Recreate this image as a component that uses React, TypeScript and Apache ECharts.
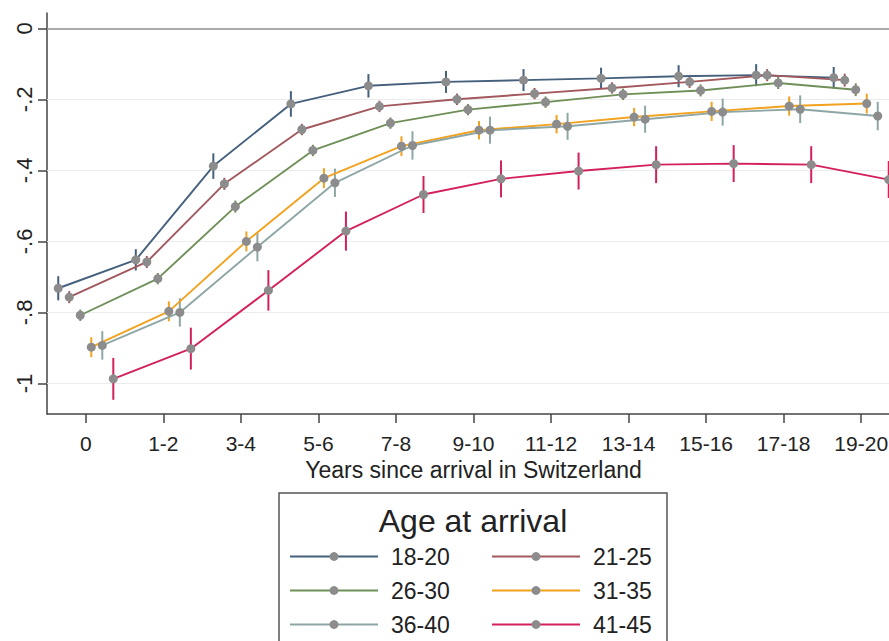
import React, { useEffect, useRef } from "react";
import * as echarts from "echarts";

const categories = ["0", "1-2", "3-4", "5-6", "7-8", "9-10", "11-12", "13-14", "15-16", "17-18", "19-20"];
const groups = ["18-20", "21-25", "26-30", "31-35", "36-40", "41-45"];
const groupColors = ["#45607c", "#a2585d", "#6f8f58", "#f2a21e", "#8ea6a6", "#d4205a"];

const v1820 = [-0.732, -0.652, -0.388, -0.213, -0.162, -0.151, -0.146, -0.141, -0.135, -0.132, -0.139];
const v2125 = [-0.757, -0.658, -0.438, -0.285, -0.22, -0.2, -0.184, -0.168, -0.151, -0.132, -0.146];
const v2630 = [-0.808, -0.705, -0.502, -0.344, -0.267, -0.229, -0.208, -0.186, -0.175, -0.154, -0.173];
const v3135 = [-0.898, -0.797, -0.6, -0.422, -0.332, -0.287, -0.27, -0.25, -0.234, -0.219, -0.212];
const v3640 = [-0.893, -0.8, -0.616, -0.435, -0.33, -0.287, -0.276, -0.256, -0.236, -0.228, -0.247];
const v4145 = [-0.987, -0.902, -0.738, -0.571, -0.468, -0.424, -0.402, -0.384, -0.381, -0.384, -0.426];

const ci1820 = [0.034, 0.03, 0.036, 0.036, 0.033, 0.031, 0.031, 0.03, 0.031, 0.031, 0.03];
const ci2125 = [0.017, 0.017, 0.017, 0.016, 0.016, 0.016, 0.016, 0.016, 0.017, 0.017, 0.018];
const ci2630 = [0.016, 0.016, 0.017, 0.016, 0.016, 0.016, 0.016, 0.016, 0.017, 0.017, 0.018];
const ci3135 = [0.028, 0.028, 0.028, 0.028, 0.028, 0.026, 0.026, 0.026, 0.027, 0.027, 0.028];
const ci3640 = [0.04, 0.04, 0.04, 0.04, 0.04, 0.038, 0.038, 0.038, 0.038, 0.039, 0.04];
const ci4145 = [0.059, 0.059, 0.057, 0.055, 0.052, 0.052, 0.052, 0.052, 0.052, 0.052, 0.052];

const allValues = [v1820, v2125, v2630, v3135, v3640, v4145];
const allCis = [ci1820, ci2125, ci2630, ci3135, ci3640, ci4145];
const dodge = [-0.355, -0.213, -0.071, 0.071, 0.213, 0.355];

const yTickValues = [0, -0.2, -0.4, -0.6, -0.8, -1];
const yTickLabels = ["0", "-.2", "-.4", "-.6", "-.8", "-1"];
const gridValues = [-0.2, -0.4, -0.6, -0.8, -1];

const FONT = "'Liberation Sans', Arial, sans-serif";

export default function App() {
  const ref = useRef<HTMLDivElement>(null);
  useEffect(() => {
    if (!ref.current) return;
    const chart = echarts.init(ref.current, null, { renderer: "svg" });
    const xTicks = categories.map((_, i) => i);
    const series: any[] = [];
    groups.forEach((g, gi) => {
      const vals = allValues[gi];
      const cis = allCis[gi];
      series.push({
        type: "custom",
        name: g + " CI",
        z: 2,
        silent: true,
        renderItem: (params: any, api: any) => {
          const p1 = api.coord([api.value(0), api.value(1)]);
          const p2 = api.coord([api.value(0), api.value(2)]);
          return {
            type: "line",
            shape: { x1: p1[0], y1: p1[1], x2: p2[0], y2: p2[1] },
            style: { stroke: groupColors[gi], lineWidth: 2 },
          };
        },
        data: vals.map((v, k) => [k + dodge[gi], v - cis[k], v + cis[k]]),
      });
    });
    groups.forEach((g, gi) => {
      const vals = allValues[gi];
      const s: any = {
        type: "line",
        name: g,
        z: 3,
        symbol: "circle",
        symbolSize: 9,
        showSymbol: true,
        itemStyle: { color: "#8c8c8c" },
        lineStyle: { color: groupColors[gi], width: 1.9 },
        data: vals.map((v, k) => [k + dodge[gi], v]),
      };
      if (gi === 0) {
        s.markLine = {
          silent: true,
          symbol: "none",
          label: { show: false },
          z: 1,
          data: [
            ...gridValues.map((y) => ({ yAxis: y, lineStyle: { color: "#ececec", width: 1, type: "solid" } })),
            { yAxis: 0, lineStyle: { color: "#8f8f8f", width: 1.5, type: "solid" } },
          ],
        };
      }
      series.push(s);
    });

    const legendBase = {
      orient: "vertical",
      top: 544.5,
      height: 120,
      padding: 0,
      itemWidth: 88,
      itemHeight: 11,
      itemGap: 10,
      textStyle: { fontSize: 23, color: "#222", fontFamily: FONT, lineHeight: 24, padding: [0, 0, 0, 8] },
    };

    chart.setOption({
      animation: false,
      backgroundColor: "#ffffff",
      textStyle: { fontFamily: FONT },
      grid: { left: 47, right: 0, top: 13, bottom: 286, containLabel: false },
      xAxis: {
        type: "value",
        min: -0.5,
        max: 10.5,
        name: "Years since arrival in Switzerland",
        nameLocation: "middle",
        nameGap: 39,
        nameTextStyle: { fontSize: 23, color: "#222", fontFamily: FONT },
        axisLine: { show: true, onZero: false, lineStyle: { color: "#444", width: 1.5 } },
        axisTick: { show: true, length: 9, customValues: xTicks, lineStyle: { color: "#444", width: 1.5 } },
        axisLabel: {
          customValues: xTicks,
          fontSize: 21,
          color: "#222",
          margin: 19,
          fontFamily: FONT,
          formatter: (v: number) => categories[Math.round(v)] ?? "",
        },
        splitLine: { show: false },
      },
      yAxis: {
        type: "value",
        min: -1.086,
        max: 0.043,
        axisLine: { show: true, onZero: false, lineStyle: { color: "#444", width: 1.5 } },
        axisTick: { show: true, length: 9, customValues: yTickValues, lineStyle: { color: "#444", width: 1.5 } },
        axisLabel: {
          customValues: yTickValues,
          rotate: 90,
          fontSize: 22,
          color: "#222",
          margin: 12,
          fontFamily: FONT,
          formatter: (v: number) => {
            const idx = yTickValues.findIndex((t) => Math.abs(t - v) < 1e-6);
            return idx >= 0 ? yTickLabels[idx] : "";
          },
        },
        splitLine: { show: false },
      },
      legend: [
        { ...legendBase, left: 289, data: ["18-20", "26-30", "36-40"] },
        { ...legendBase, left: 491, data: ["21-25", "31-35", "41-45"] },
      ],
      graphic: [
        {
          type: "rect",
          shape: { x: 279, y: 493, width: 388, height: 220 },
          style: { fill: "none", stroke: "#555", lineWidth: 1.5 },
          z: 0,
        },
        {
          type: "text",
          x: 473,
          y: 521,
          style: {
            text: "Age at arrival",
            fontSize: 32,
            fontFamily: FONT,
            fill: "#222",
            textAlign: "center",
            textVerticalAlign: "middle",
          },
        },
      ],
      series,
    });
    return () => chart.dispose();
  }, []);
  return (
    <div style={{ position: "fixed", left: 0, top: 0, width: 889, height: 641, overflow: "hidden", background: "#fff" }}>
      <div ref={ref} style={{ width: 900, height: 700 }} />
    </div>
  );
}
